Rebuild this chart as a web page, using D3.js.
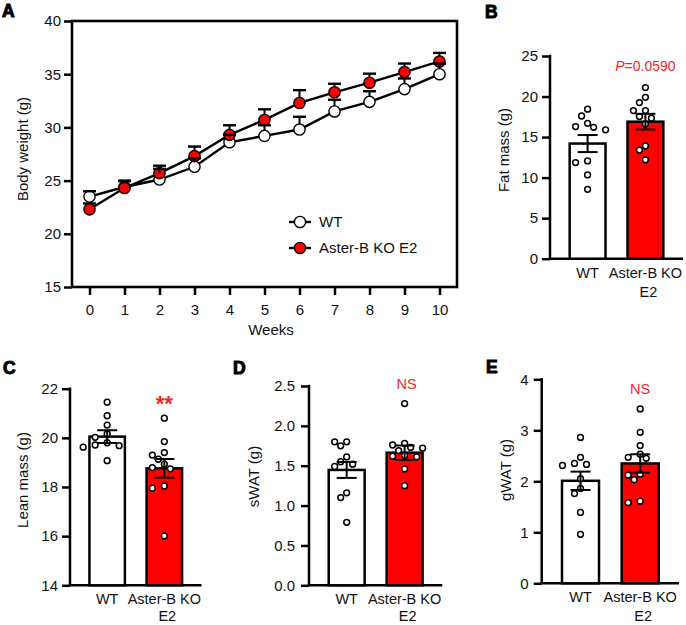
<!DOCTYPE html>
<html><head><meta charset="utf-8">
<script src="https://cdn.jsdelivr.net/npm/d3@7"></script>
<style>
body{margin:0;background:#fff;}
svg{display:block;font-family:"Liberation Sans",Arial,sans-serif;}
</style></head><body>
<svg id="c" width="686" height="625"></svg>
<script>
// ---------- DATA ----------
const weeks = [0,1,2,3,4,5,6,7,8,9,10];
const bodyWT    = [23.5,24.4,25.1,26.3,28.6,29.2,29.8,31.5,32.4,33.6,35.0];
const bodyWTsem = [0.5,0.6,1.0,0.8,0.7,1.0,1.2,1.1,1.0,1.0,1.0];
const bodyKO    = [22.3,24.3,25.7,27.3,29.3,30.7,32.3,33.3,34.2,35.2,36.2];
const bodyKOsem = [0.55,0.65,0.7,0.9,0.9,1.0,1.2,0.8,0.85,0.8,0.8];
const seriesNames = ["WT","Aster-B KO E2"];
const groups = ["WT","Aster-B KO E2"];
const groupLabelLines = [["WT"],["Aster-B KO","E2"]];

const fatWT = [18.44,17.6,16.7,16.3,16.2,15.9,12.06,11.86,10.33,8.56];
const fatKO = [21.1,19.9,19.26,18.27,18.27,17.53,17.33,16.6,13.9,13.4,12.2];
const fatMean = [14.2,16.9], fatSem = [1.05,0.97];

const leanWT = [21.45,20.9,20.52,20.16,20.02,19.8,19.71,19.68,19.62,19.07];
const leanKO = [20.8,19.85,19.4,19.3,19.13,18.93,18.79,18.74,18.04,17.95,16.01];
const leanMean = [20.05,18.76], leanSem = [0.26,0.38];

const swatWT = [1.80,1.80,1.75,1.61,1.55,1.52,1.49,1.16,1.10,0.79];
const swatKO = [2.28,1.78,1.76,1.73,1.72,1.69,1.63,1.62,1.61,1.46,1.25];
const swatMean = [1.447,1.664], swatSem = [0.10,0.09];

const gwatWT = [2.86,2.47,2.35,2.33,2.31,2.05,1.86,1.76,1.39,0.96];
const gwatKO = [3.42,2.96,2.70,2.53,2.47,2.45,2.14,2.12,2.03,1.61,1.58];
const gwatMean = [2.01,2.35], gwatSem = [0.18,0.18];

const bodyTicks = [15,20,25,30,35,40];
const fatTicks = [0,5,10,15,20,25];
const leanTicks = [14,16,18,20,22];
const swatTicks = [0,0.5,1.0,1.5,2.0,2.5];
const gwatTicks = [0,1,2,3,4];

// ---------- STYLE ----------
const RED = "#ff0000", TXTRED = "#f2262a";
const svg = d3.select("#c");
const FS = 15;

function panelLabel(t, x, y){
  svg.append("text").attr("x",x).attr("y",y).text(t)
    .attr("font-size",17.5).attr("font-weight","bold")
    .attr("stroke","#000").attr("stroke-width",1).attr("fill","#000");
}
function yTitle(t, x, y){
  svg.append("text").attr("transform",`translate(${x},${y}) rotate(-90)`)
    .attr("text-anchor","middle").attr("font-size",FS).attr("fill","#111").text(t);
}
function styleAxis(g, sw){
  g.selectAll("line").attr("stroke","#000").attr("stroke-width",sw);
  g.selectAll("path").attr("stroke","#000").attr("stroke-width",sw);
  g.selectAll("text").attr("font-size",FS).attr("fill","#111")
    .attr("font-family","'Liberation Sans',Arial,sans-serif");
}

// ---------- PANEL A ----------
(function(){
  const x = d3.scaleLinear([-0.5,10.5],[72,457]);
  const y = d3.scaleLinear([15,40],[287,21]);
  const R = 5.6;
  const gy = svg.append("g").attr("transform","translate(72,0)")
    .call(d3.axisLeft(y).tickValues(bodyTicks).tickSize(8).tickPadding(3));
  gy.select(".domain").remove(); styleAxis(gy,2.5);
  const gx = svg.append("g").attr("transform","translate(0,287)")
    .call(d3.axisBottom(x).tickValues(weeks).tickSize(8).tickPadding(9));
  gx.select(".domain").remove(); styleAxis(gx,2.5);
  svg.append("rect").attr("x",72).attr("y",21).attr("width",385).attr("height",266)
    .attr("fill","none").attr("stroke","#000").attr("stroke-width",2.6);

  const line = d3.line().x((d,i)=>x(weeks[i])).y(d=>y(d));
  [bodyWT, bodyKO].forEach(s=>{
    svg.append("path").attr("d",line(s)).attr("fill","none")
      .attr("stroke","#000").attr("stroke-width",2.4);
  });
  function errs(m, s, fromEdge){
    const g = svg.append("g").attr("stroke","#000").attr("stroke-width",2);
    m.forEach((v,i)=>{
      const cx = x(weeks[i]), y0 = y(v) - (fromEdge?R:0), y1 = y(v+s[i]);
      if (y1 < y0) g.append("line").attr("x1",cx).attr("x2",cx).attr("y1",y0).attr("y2",y1);
      g.append("line").attr("x1",cx-6.5).attr("x2",cx+6.5).attr("y1",y1).attr("y2",y1).attr("stroke-width",2.4);
    });
  }
  function marks(m, fill){
    svg.append("g").selectAll("circle").data(m).join("circle")
      .attr("cx",(d,i)=>x(weeks[i])).attr("cy",d=>y(d)).attr("r",R)
      .attr("fill",fill).attr("stroke","#000").attr("stroke-width",1.4);
  }
  marks(bodyWT,"#fff");
  errs(bodyKO, bodyKOsem, false);
  marks(bodyKO, RED);
  errs(bodyWT, bodyWTsem, true);

  // legend
  const lg = [[seriesNames[0],"#fff",222],[seriesNames[1],RED,248]];
  lg.forEach(([name,fill,ly])=>{
    svg.append("line").attr("x1",289).attr("x2",311).attr("y1",ly).attr("y2",ly)
      .attr("stroke","#000").attr("stroke-width",2.4);
    svg.append("circle").attr("cx",300).attr("cy",ly).attr("r",R)
      .attr("fill",fill).attr("stroke","#000").attr("stroke-width",1.4);
    svg.append("text").attr("x",319).attr("y",ly+5.3).attr("font-size",FS).attr("fill","#111").text(name);
  });
  yTitle("Body weight (g)", 28, 149);
  svg.append("text").attr("x",271).attr("y",335).attr("text-anchor","middle")
    .attr("font-size",FS).attr("fill","#111").text("Weeks");
  panelLabel("A", 2, 16.5);
})();

// ---------- BAR PANELS ----------
function swarm(vals, y, step, d){
  const order = d3.range(vals.length).sort((a,b)=>vals[b]-vals[a]);
  const placed = []; const off = new Array(vals.length);
  order.forEach(i=>{
    const py = y(vals[i]);
    for (let k=0;k<20;k++){
      const o = (k===0?0:(k%2===1?-1:1)*Math.ceil(k/2))*step;
      if (placed.every(p=>Math.hypot(p[0]-o,p[1]-py)>=d)){
        placed.push([o,py]); off[i]=o; break;
      }
    }
  });
  return off;
}

function barPanel(c){
  const y = d3.scaleLinear(c.domain,[c.yBot,c.yTop]);
  const x = d3.scaleBand(groups,[c.ax, c.ax+c.w]).paddingInner(0.38).paddingOuter(0.34);
  const gy = svg.append("g").attr("transform",`translate(${c.ax},0)`)
    .call(d3.axisLeft(y).tickValues(c.ticks).tickSize(8).tickPadding(c.pad||4)
      .tickFormat(c.fmt?d3.format(c.fmt):d3.format("d")));
  gy.select(".domain").remove(); styleAxis(gy,2.5);
  svg.append("line").attr("x1",c.ax).attr("x2",c.ax).attr("y1",c.yTop-1.2).attr("y2",c.yBot)
    .attr("stroke","#000").attr("stroke-width",2.5);
  svg.append("line").attr("x1",c.ax-1.2).attr("x2",c.ax+c.w).attr("y1",c.yBot).attr("y2",c.yBot)
    .attr("stroke","#000").attr("stroke-width",2.5);

  const bw = x.bandwidth();
  groups.forEach((gname,gi)=>{
    const x0 = x(gname), cx = x0 + bw/2;
    svg.append("rect").attr("x",x0).attr("y",y(c.mean[gi])).attr("width",bw)
      .attr("height",c.yBot - y(c.mean[gi]))
      .attr("fill",gi?RED:"#fff").attr("stroke","#000").attr("stroke-width",2.5);
    const pts = gi?c.ko:c.wt;
    const off = swarm(pts, y, 6, 7.2);
    svg.append("g").selectAll("circle").data(pts).join("circle")
      .attr("cx",(d,i)=>cx+off[i]).attr("cy",d=>y(d)).attr("r",2.9)
      .attr("fill","#fff").attr("stroke","#000").attr("stroke-width",1.5);
    const eg = svg.append("g").attr("stroke","#000").attr("stroke-width",2);
    const lo = y(c.mean[gi]-c.sem[gi]), hi = y(c.mean[gi]+c.sem[gi]);
    eg.append("line").attr("x1",cx).attr("x2",cx).attr("y1",lo).attr("y2",hi);
    [lo,hi].forEach(v=>eg.append("line").attr("x1",cx-10).attr("x2",cx+10).attr("y1",v).attr("y2",v));
    groupLabelLines[gi].forEach((t,li)=>{
      const base = c.yBot + 19;
      const yy = li ? Math.min(base + 19.3, 620.5) : base;
      svg.append("text").attr("x",cx + (li? 3:0)).attr("y",yy)
        .attr("text-anchor","middle").attr("font-size",FS-0.5).attr("fill","#111").text(t);
    });
  });
  yTitle(c.title, c.tx, c.ty);
  panelLabel(c.label, c.lx, c.ly);
  if (c.sig){
    const cx = x(groups[1]) + bw/2;
    const t = svg.append("text").attr("x",cx+(c.sigDx||0)).attr("y",c.sigY).attr("text-anchor","middle")
      .attr("fill",TXTRED).attr("font-size",c.sigSize||14);
    if (c.sig==="P"){
      t.append("tspan").attr("font-style","italic").text("P");
      t.append("tspan").text("=0.0590");
    } else {
      t.text(c.sig);
      if (c.sigBold) t.attr("font-weight","bold");
    }
  }
}

barPanel({ax:550,w:133,yTop:56,yBot:258.7,domain:[0,25],ticks:fatTicks,
  wt:fatWT,ko:fatKO,mean:fatMean,sem:fatSem,title:"Fat mass (g)",tx:509,ty:150,
  label:"B",lx:485,ly:17.5,sig:"P",sigY:70.5,sigSize:14});
barPanel({ax:70,w:131.5,yTop:388.7,yBot:585.3,domain:[14,22],ticks:leanTicks,
  wt:leanWT,ko:leanKO,mean:leanMean,sem:leanSem,title:"Lean mass (g)",tx:28,ty:480,
  label:"C",lx:3,ly:373.5,sig:"**",sigY:411,sigSize:22,sigBold:true});
barPanel({ax:309,w:133.3,yTop:386,yBot:585.3,domain:[0,2.5],ticks:swatTicks,fmt:".1f",pad:6,
  wt:swatWT,ko:swatKO,mean:swatMean,sem:swatSem,title:"sWAT (g)",tx:258.5,ty:476.5,
  label:"D",lx:233,ly:373.5,sig:"NS",sigY:389.3,sigSize:14.5,sigDx:2});
barPanel({ax:541.7,w:137.3,yTop:379.3,yBot:583.3,domain:[0,4],ticks:gwatTicks,pad:5,
  wt:gwatWT,ko:gwatKO,mean:gwatMean,sem:gwatSem,title:"gWAT (g)",tx:510.5,ty:470,
  label:"E",lx:486,ly:373,sig:"NS",sigY:394,sigSize:14.5});
</script>
</body></html>
